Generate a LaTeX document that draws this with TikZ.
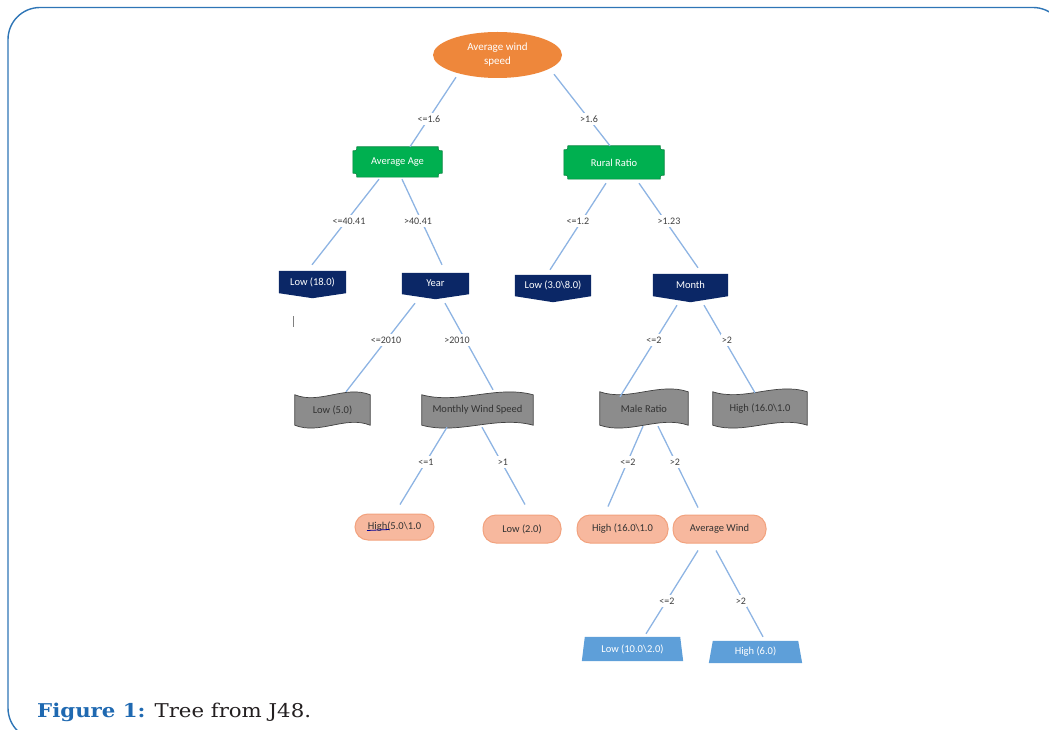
\documentclass[tikz,border=0pt]{standalone}
\usepackage{fontspec}
\setmainfont{Carlito}
\newfontfamily\capfont[FakeStretch=1.12]{DejaVu Serif}
\usetikzlibrary{shapes.geometric,calc,backgrounds}
\definecolor{frameblue}{HTML}{2E75B6}
\definecolor{capblue}{HTML}{1F69B1}
\definecolor{captext}{HTML}{231F20}
\definecolor{rootorange}{HTML}{EE873B}
\definecolor{plaquegreen}{HTML}{00B050}
\definecolor{navy}{HTML}{0B2766}
\definecolor{wavegray}{HTML}{8C8C8C}
\definecolor{waveline}{HTML}{404040}
\definecolor{salmon}{HTML}{F7B89E}
\definecolor{salmonline}{HTML}{F2A27E}
\definecolor{trapblue}{HTML}{5E9FD9}
\definecolor{edgeblue}{HTML}{8EB4E3}
\definecolor{labelgray}{HTML}{404040}
\definecolor{darktext}{HTML}{333333}
\newcommand\plaquedraw[1]{\filldraw[fill=plaquegreen,draw=plaquegreen!75!black,line width=0.6pt]
 ($(#1.north west)+(4,0)$) -- ($(#1.north east)+(-4,0)$) .. controls ($(#1.north east)+(-4,4)$) .. ($(#1.north east)+(0,4)$)
 -- ($(#1.south east)+(0,-4)$) .. controls ($(#1.south east)+(-4,-4)$) .. ($(#1.south east)+(-4,0)$)
 -- ($(#1.south west)+(4,0)$) .. controls ($(#1.south west)+(4,-4)$) .. ($(#1.south west)+(0,-4)$)
 -- ($(#1.north west)+(0,4)$) .. controls ($(#1.north west)+(4,4)$) .. cycle;}
\newcommand\chevdraw[2]{\fill[navy] (#1.north west) -- (#1.north east) -- (#1.south east) -- ($(#1.south)+(0,#2)$) -- (#1.south west) -- cycle;}
\newcommand\wavedraw[1]{\filldraw[fill=wavegray,draw=waveline,line width=0.7pt]
 (#1.north west) .. controls ($(#1.north west)!0.33!(#1.north east)+(0,10)$) and ($(#1.north west)!0.67!(#1.north east)+(0,-10)$) .. (#1.north east)
 -- (#1.south east) .. controls ($(#1.south west)!0.67!(#1.south east)+(0,-10)$) and ($(#1.south west)!0.33!(#1.south east)+(0,10)$) .. (#1.south west) -- cycle;}
\newcommand\trapdraw[2]{\fill[trapblue] (#1.north west) -- (#1.north east) -- ($(#1.south east)+(#2,0)$) -- ($(#1.south west)+(-#2,0)$) -- cycle;}
\tikzset{
 x=1pt, y=-1pt,
 edge/.style={draw=edgeblue, line width=1.3pt},
 lbl/.style={fill=white, inner xsep=1pt, inner ysep=3pt, text=labelgray, font=\fontsize{10}{12}\selectfont},
 base/.style={rectangle, inner sep=0pt, font=\fontsize{10.5}{12}\selectfont},
 rootnode/.style={ellipse, fill=rootorange, minimum width=129pt, minimum height=46pt, inner sep=0pt, text=white, align=center, font=\fontsize{11}{14}\selectfont},
 plaquebox/.style={base, text=white},
 chevbox/.style={base, text=white},
 wavebox/.style={base, text=darktext},
 pill/.style={base, fill=salmon, draw=salmonline, line width=1pt, rounded corners=13pt, text=darktext},
 trapbox/.style={base, text=white}
}
\begin{document}
\begin{tikzpicture}
\useasboundingbox (0,0) rectangle (1049,730);
\clip (0,0) rectangle (1049,730);
% nodes
\node[rootnode] (root) at (497.5,55) {Average wind\\speed};
\node[plaquebox, minimum width=89pt, minimum height=30pt] (avgage) at (397.5,162) {Average Age};
\node[plaquebox, minimum width=100pt, minimum height=33pt] (rural) at (614,162.5) {Rural Ratio};
\node[chevbox, minimum width=67pt, minimum height=22pt] (low18) at (312.5,282) {Low (18.0)};
\node[chevbox, minimum width=67pt, minimum height=21pt] (year) at (435.5,283.5) {Year};
\node[chevbox, minimum width=76pt, minimum height=21pt] (low3) at (553,285.5) {Low (3.0\textbackslash 8.0)};
\node[chevbox, minimum width=75pt, minimum height=22pt] (month) at (690.5,285) {Month};
\node[wavebox, minimum width=75pt, minimum height=30pt] (low5) at (332.5,410) {Low (5.0)};
\node[wavebox, minimum width=111pt, minimum height=30pt] (mws) at (477.5,410) {Monthly Wind Speed};
\node[wavebox, minimum width=88pt, minimum height=33pt] (male) at (644,408.5) {Male Ratio};
\node[wavebox, minimum width=94pt, minimum height=33pt] (high16) at (760,408.5) {High (16.0\textbackslash 1.0};
\node[pill, minimum width=79pt, minimum height=26pt] (high5) at (394.5,527) {High(5.0\textbackslash 1.0};
\node[pill, minimum width=78pt, minimum height=28pt] (low2) at (522,529) {Low (2.0)};
\node[pill, minimum width=91pt, minimum height=28pt] (high16b) at (622.5,529) {High (16.0\textbackslash 1.0};
\node[pill, minimum width=93pt, minimum height=28pt] (avgwind) at (719.5,529) {Average Wind};
\node[trapbox, minimum width=95pt, minimum height=24pt] (low10) at (632.5,649) {Low (10.0\textbackslash 2.0)};
\node[trapbox, minimum width=85pt, minimum height=22pt] (high6) at (755.5,652) {High (6.0)};
% shapes behind the texts
\begin{scope}[on background layer]
\draw[frameblue, line width=1.4pt, rounded corners=32pt] (8,7.5) rectangle (1065,740);
\plaquedraw{avgage}
\plaquedraw{rural}
\chevdraw{low18}{5}
\chevdraw{year}{5}
\chevdraw{low3}{6}
\chevdraw{month}{6}
\wavedraw{low5}
\wavedraw{mws}
\wavedraw{male}
\wavedraw{high16}
\trapdraw{low10}{3}
\trapdraw{high6}{4}
\end{scope}
% connectors
\draw[edge] ($(root.south)+(-41.5,-1)$) -- ($(avgage.north)+(12.5,0)$);
\draw[edge] ($(root.south)+(56.5,-4)$) -- ($(rural.north)+(-4,0)$);
\draw[edge] ($(avgage.south)+(-18.5,2)$) -- ($(low18.north)+(-0.5,-6)$);
\draw[edge] ($(avgage.south)+(4.5,2)$) -- ($(year.north)+(6.5,-8)$);
\draw[edge] ($(rural.south)+(-8,4)$) -- ($(low3.north)+(-3,-5)$);
\draw[edge] ($(rural.south)+(25,4)$) -- ($(month.north)+(7.5,-6)$);
\draw[edge] ($(year.south)+(-20.5,9)$) -- ($(low5.north)+(13.5,-3)$);
\draw[edge] ($(year.south)+(9.5,9)$) -- ($(mws.north)+(15.5,-5)$);
\draw[edge] ($(month.south)+(-13.5,9)$) -- ($(male.north)+(-24,5)$);
\draw[edge] ($(month.south)+(13.5,9)$) -- ($(high16.north)+(-5,1)$);
\draw[edge] ($(mws.south)+(-30.5,2)$) -- ($(high5.north)+(5.5,-9)$);
\draw[edge] ($(mws.south)+(4.5,2)$) -- ($(low2.north)+(3,-10)$);
\draw[edge] ($(male.south)+(-1,1)$) -- ($(high16b.north)+(-14.5,-8)$);
\draw[edge] ($(male.south)+(14,1)$) -- ($(avgwind.north)+(-21.5,-7)$);
\draw[edge] ($(avgwind.south)+(-21.5,7)$) -- ($(low10.north)+(13.5,-3)$);
\draw[edge] ($(avgwind.south)+(-3.5,7)$) -- ($(high6.north)+(7.5,-4)$);
% edge labels
\node[lbl] (l1) at (429,119) {<=1.6};
\node[lbl] (l2) at (589,119) {>1.6};
\node[lbl] (l3) at (349,221) {<=40.41};
\node[lbl] (l4) at (418,221) {>40.41};
\node[lbl] (l5) at (578,221) {<=1.2};
\node[lbl] (l6) at (669,221) {>1.23};
\node[lbl] (l7) at (386,340) {<=2010};
\node[lbl] (l8) at (457,340) {>2010};
\node[lbl] (l9) at (654,340) {<=2};
\node[lbl] (l10) at (727,340) {>2};
\node[lbl] (l11) at (426,462) {<=1};
\node[lbl] (l12) at (503,462) {>1};
\node[lbl] (l13) at (628,462) {<=2};
\node[lbl] (l14) at (675,462) {>2};
\node[lbl] (l15) at (667,601) {<=2};
\node[lbl] (l16) at (741,601) {>2};
% stray marks
\draw[gray, line width=1pt] (293,316) -- (293,327);
\draw[blue!60!black, line width=0.8pt] (367,530.5) -- (389,529.5);
% caption
\node[anchor=base west, inner sep=0pt] (cap) at (37,717) {\capfont\fontsize{19}{21}\selectfont\textcolor{capblue}{\bfseries Figure 1:} \textcolor{captext}{Tree from J48.}};
\end{tikzpicture}
\end{document}
